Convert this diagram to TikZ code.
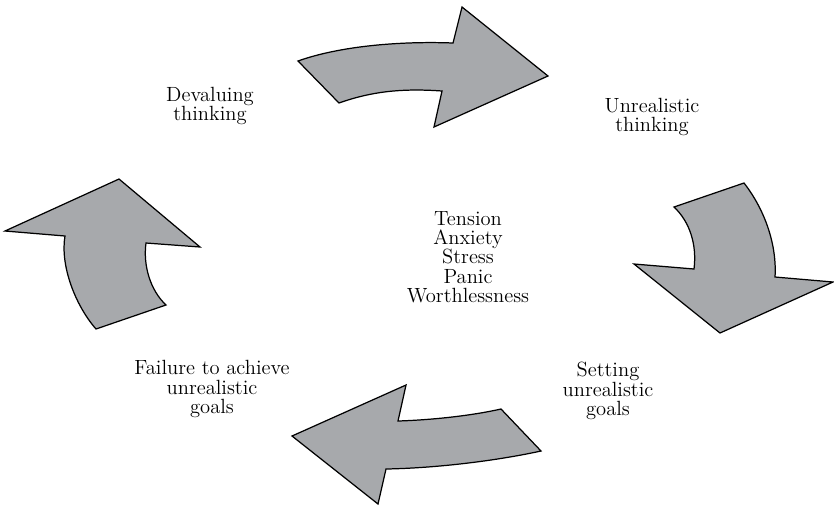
\documentclass[tikz,border=0pt]{standalone}
\usetikzlibrary{positioning}
\definecolor{arrowgray}{HTML}{A7A9AC}
\tikzset{
  bigarrow/.style={draw=black, line width=0.7pt, fill=arrowgray, line join=miter},
  cyclelabel/.style={align=center, font=\fontsize{11.7}{11}\selectfont, inner sep=1pt}}
\begin{document}
\begin{tikzpicture}[x=0.02cm, y=-0.02cm]
  \useasboundingbox (0,0) rectangle (834,508);
  % the four bent arrows of the cycle
  \draw[bigarrow] (298,61) .. controls (340,46) and (400,41) .. (453,43)
    -- (462,7) -- (548,76) -- (434,127) -- (442,91)
    .. controls (400,88) and (370,92) .. (339,103) -- cycle;
  \draw[bigarrow] (674,207) -- (744,183)
    .. controls (765,210) and (777,245) .. (775,277)
    -- (833,282) -- (720,333) -- (634,264) -- (694,269)
    .. controls (697,245) and (690,222) .. cycle;
  \draw[bigarrow] (501,409) -- (541,451)
    .. controls (500,460) and (440,468) .. (386,469)
    -- (378,504) -- (292,436) -- (406,385) -- (398,421)
    .. controls (430,420) and (470,416) .. cycle;
  \draw[bigarrow] (96,329) -- (166,305)
    .. controls (150,290) and (143,265) .. (146,243)
    -- (200,247) -- (119,179) -- (5,231) -- (65,236)
    .. controls (60,265) and (75,305) .. cycle;
  % labels
  \node[cyclelabel] (devalue) at (210,106) {Devaluing\\thinking};
  \node[cyclelabel] (unreal) at (652,117) {Unrealistic\\thinking};
  \node[cyclelabel] (setting) at (608,391) {Setting\\unrealistic\\goals};
  \node[cyclelabel] (failure) at (212,389) {Failure to achieve\\unrealistic\\goals};
  \node[cyclelabel] (feelings) at (468,257)
    {Tension\\Anxiety\\Stress\\Panic\\Worthlessness};
\end{tikzpicture}
\end{document}
